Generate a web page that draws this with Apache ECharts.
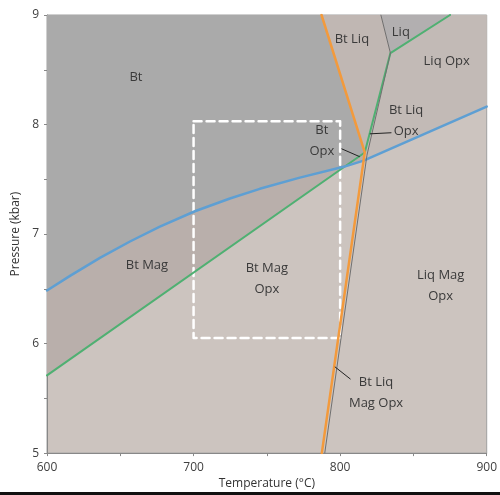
<!DOCTYPE html>
<html><head><meta charset="utf-8">
<script src="https://cdn.jsdelivr.net/npm/echarts@6/dist/echarts.min.js"></script>
<style>html,body{margin:0;padding:0;background:#fff}#c{width:500px;height:495px}</style>
</head><body><div id="c"></div>
<script>
// Axis ranges and ticks
const tempRange = [600, 900];
const pressRange = [5, 9];
const tempTicks = [600, 700, 800, 900];
const pressTicks = [5, 6, 7, 8, 9];

// Phase boundaries [T (°C), P (kbar)]
const blueLine   = [[600,6.485],[615.7,6.618],[636.1,6.782],[656.6,6.932],[677,7.068],[700.9,7.208],[724.8,7.325],
                    [745.2,7.413],[772.5,7.515],[803,7.616],[816,7.67],[900,8.164]];
const blueA = 9;   // index where blue meets green
const blueC = 10;  // index where blue meets orange
const greenLine  = [[600,5.71],[816.8,7.745],[834.3,8.652],[875,9]];
const orangeLine = [[787.3,9],[816.8,7.745],[787.5,5]];
const grayLine   = [[827.8,9],[834.3,8.652],[818.3,7.72],[789.5,5]];

// Dashed box
const boxT = [700, 800];
const boxP = [6.05, 8.03];

// Field labels
const fieldNames = ['Bt','Bt Mag','Bt Mag\nOpx','Bt Liq','Liq','Liq Opx','Bt Liq\nOpx','Bt\nOpx','Liq Mag\nOpx','Bt Liq\nMag Opx'];
const fieldPos   = [[660.7,8.427],[668.2,6.718],[750,6.59],[808,8.78],[841.4,8.845],[872.7,8.58],[845,8.03],[787.5,7.855],[868.6,6.527],[824.5,5.555]];

// Leader lines
const leaders = [
  [[800.9,7.779],[813.4,7.706]],
  [[820.2,7.915],[835,7.925]],
  [[796.4,5.788],[807.1,5.675]]
];

// Field polygons built from boundaries
const regions = [
  {c:'#b9afab', pts:[[600,9], greenLine[0], greenLine[1], orangeLine[0]]},                          // Bt Mag
  {c:'#aaaaaa', pts:[[600,9]].concat(blueLine.slice(0,blueA+1), [greenLine[1], orangeLine[0]])},     // Bt
  {c:'#b6aeab', pts:[blueLine[blueA], greenLine[1], blueLine[blueC]]},                               // Bt Opx
  {c:'#c2bab6', pts:[blueLine[blueC], blueLine[blueC+1], [900,9], grayLine[0], grayLine[1], grayLine[2]]}, // Liq Opx
  {c:'#c1b9b5', pts:[greenLine[1], greenLine[2], grayLine[2]]},                                      // Bt Liq Opx
  {c:'#b2afb0', pts:[grayLine[0], grayLine[1], greenLine[3]]},                                       // Liq
  {c:'#c0b7b3', pts:[orangeLine[0], orangeLine[1], greenLine[2], grayLine[0]]}                       // Bt Liq
];

const chart = echarts.init(document.getElementById('c'));
const lineS = (data, color, width, z, dash) => ({
  type:'line', data, symbol:'none', smooth:false, silent:true, z,
  lineStyle:{color, width, type:dash||'solid', cap:'round', join:'round'}, animation:false
});
const boxPath = [[boxT[0],boxP[1]],[boxT[1],boxP[1]],[boxT[1],boxP[0]],[boxT[0],boxP[0]],[boxT[0],boxP[1]]];

chart.setOption({
  animation:false,
  grid:{left:47, right:13, top:15, bottom:40, show:true, backgroundColor:'#ccc4bf', borderColor:'#a0a0a0', borderWidth:1},
  xAxis:{
    type:'value', min:tempRange[0], max:tempRange[1], interval:50,
    name:'Temperature (°C)', nameLocation:'middle', nameGap:22,
    nameTextStyle:{color:'#333', fontSize:12, fontFamily:'Open Sans'},
    axisLine:{lineStyle:{color:'#888'}}, axisTick:{length:3, lineStyle:{color:'#888'}},
    splitLine:{show:false},
    axisLabel:{color:'#404040', fontSize:12, fontFamily:'Open Sans', margin:8,
      formatter:v=> tempTicks.includes(v) ? String(v) : ''}
  },
  yAxis:{
    type:'value', min:pressRange[0], max:pressRange[1], interval:0.5,
    name:'Pressure (kbar)', nameLocation:'middle', nameGap:23,
    nameTextStyle:{color:'#333', fontSize:12, fontFamily:'Open Sans'},
    axisLine:{show:true, lineStyle:{color:'#888'}}, axisTick:{show:true, length:3, lineStyle:{color:'#888'}},
    splitLine:{show:false},
    axisLabel:{color:'#404040', fontSize:12, fontFamily:'Open Sans', margin:8,
      formatter:v=> pressTicks.includes(v) ? String(v) : ''}
  },
  series:[
    {
      type:'custom', silent:true, z:1, clip:true,
      data: regions.map((r,i)=>[600,5,i]),
      renderItem:(params, api)=>{
        const r = regions[params.dataIndex];
        return {type:'polygon', shape:{points:r.pts.map(p=>api.coord(p))}, style:{fill:r.c, stroke:r.c, lineWidth:0.5}};
      }
    },
    lineS(boxPath, '#ffffff', 2.5, 3, [8,5]),
    lineS(greenLine, '#4fb072', 2, 4),
    lineS(blueLine, '#5e9fd3', 2.5, 5),
    lineS(orangeLine, '#f39a3c', 2.5, 6),
    lineS(grayLine, '#707070', 1, 7),
    {
      type:'custom', silent:true, z:8,
      data: leaders.map((l,i)=>[600,5,i]),
      renderItem:(params, api)=>{
        const l = leaders[params.dataIndex];
        const a = api.coord(l[0]), b = api.coord(l[1]);
        return {type:'line', shape:{x1:a[0],y1:a[1],x2:b[0],y2:b[1]}, style:{stroke:'#222', lineWidth:1}};
      }
    },
    {
      type:'custom', silent:true, z:9,
      data: fieldPos.map((p,i)=>[p[0],p[1],i]),
      renderItem:(params, api)=>{
        const p = api.coord([api.value(0), api.value(1)]);
        return {type:'text', x:p[0], y:p[1], style:{text:fieldNames[params.dataIndex], align:'center', verticalAlign:'middle',
          fill:'#3a3a3a', font:'13px "Open Sans"', lineHeight:21}};
      }
    }
  ],
  graphic:[{type:'rect', shape:{x:0,y:492,width:500,height:3}, style:{fill:'#111'}}]
});
</script></body></html>
